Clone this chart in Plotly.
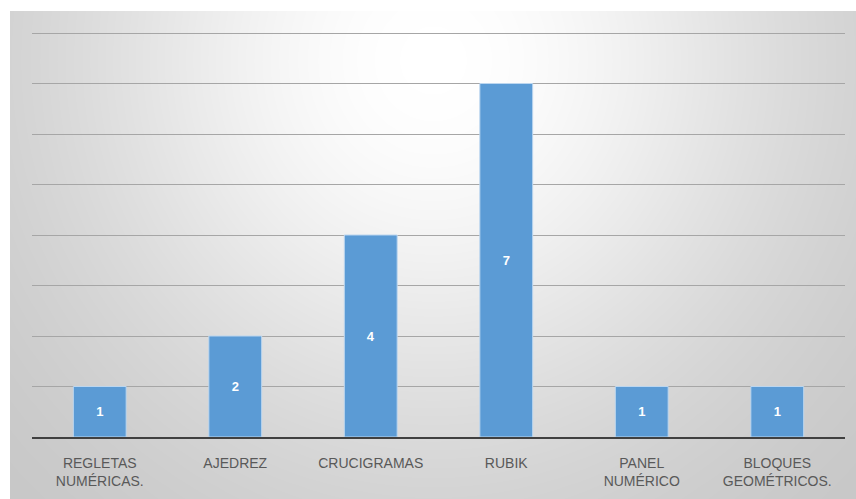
import numpy as np
import plotly.graph_objects as go

categories = ["REGLETAS<br>NUMÉRICAS.", "AJEDREZ", "CRUCIGRAMAS", "RUBIK",
              "PANEL<br>NUMÉRICO", "BLOQUES<br>GEOMÉTRICOS."]
values = [1, 2, 4, 7, 1, 1]
y_ticks = [0, 1, 2, 3, 4, 5, 6, 7, 8]

W, H = 856, 499

# background radial gradient (decoration)
gx = np.linspace(0, 1, 60)
gy = np.linspace(0, 1, 40)
X, Y = np.meshgrid(gx, gy)
u = (X - 0.5) / 0.5
v = (0.9 - Y) / 0.9
r2 = u ** 2 + v ** 2
Z = 1 - np.exp(-1.3 * r2)

fig = go.Figure()
fig.add_trace(go.Heatmap(
    x=gx, y=gy, z=Z, zsmooth="best", showscale=False, hoverinfo="skip",
    colorscale=[[0, "#ffffff"], [1, "#c3c3c3"]], zmin=0, zmax=1,
    xaxis="x", yaxis="y"))

fig.add_trace(go.Bar(
    x=categories, y=values, text=[str(v) for v in values],
    textposition="inside", insidetextanchor="middle",
    textfont=dict(family="Liberation Sans", size=13, color="#ffffff", weight="bold"),
    marker=dict(color="#5b9bd5", line=dict(color="#bcd6ef", width=1)),
    xaxis="x2", yaxis="y2", cliponaxis=False))

fig.update_layout(
    width=W, height=H, margin=dict(l=0, r=0, t=0, b=0),
    paper_bgcolor="#ffffff", plot_bgcolor="rgba(0,0,0,0)",
    showlegend=False, bargap=0.61,
    xaxis=dict(domain=[10 / W, 1], range=[0, 1], visible=False, fixedrange=True),
    yaxis=dict(domain=[0, 1 - 11 / H], range=[0, 1], visible=False, fixedrange=True),
    xaxis2=dict(domain=[32 / W, 845 / W], anchor="y2", showline=True,
                linecolor="#404040", linewidth=2, ticks="", showgrid=False,
                ticklabelstandoff=12,
                tickfont=dict(family="Liberation Sans", size=14, color="#595959")),
    yaxis2=dict(domain=[1 - 437 / H, 1 - 32 / H], anchor="x2", range=[0, 8.02],
                tickvals=y_ticks, showticklabels=False, showgrid=True,
                gridcolor="#a6a6a6", gridwidth=1, zeroline=False),
)

fig.write_html("out.html")
